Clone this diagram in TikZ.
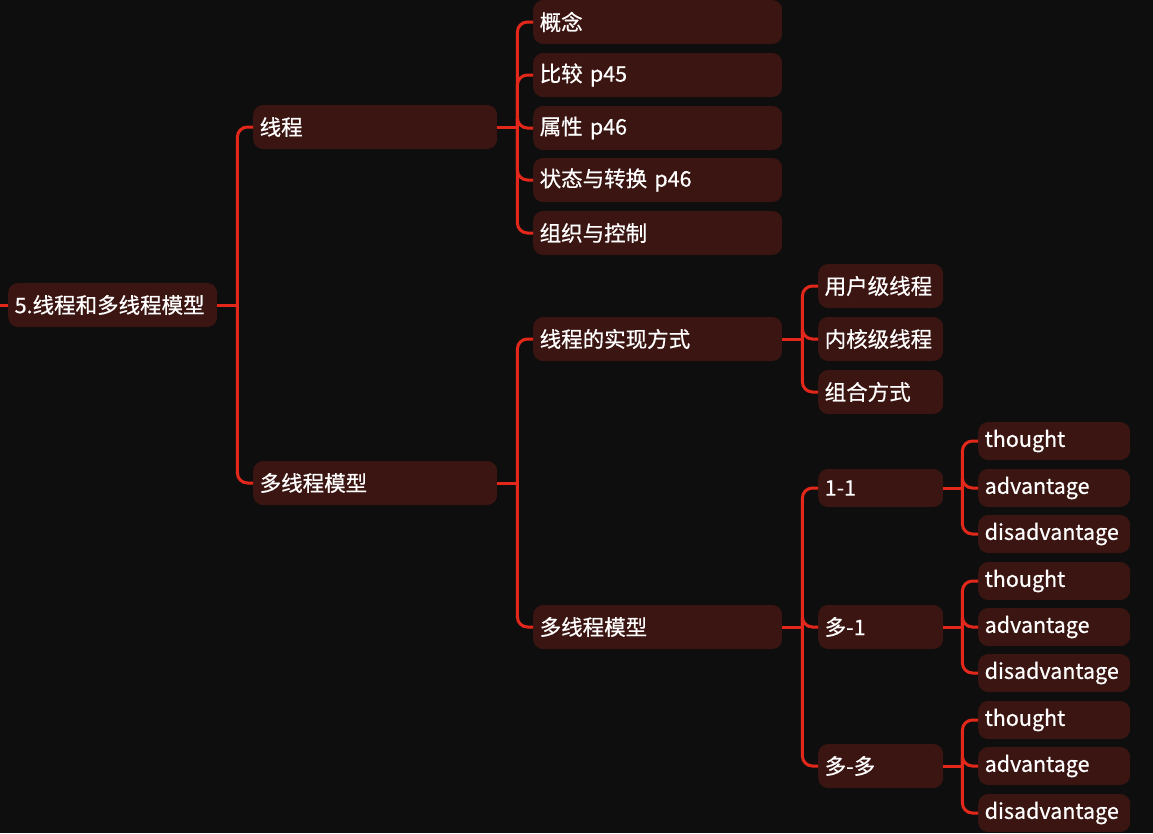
\documentclass[tikz,border=0pt]{standalone}
\usepackage{fontspec}
\setmainfont{Noto Sans CJK SC}[FakeBold=0.6, AutoFakeBold=0.6]
\usetikzlibrary{positioning, calc}

\definecolor{bgblack}{HTML}{0E0E0E}
\definecolor{boxbrown}{HTML}{3B1511}
\definecolor{linkred}{HTML}{E3281B}

\begin{document}
\begin{tikzpicture}[
  x=1pt, y=-1pt,
  topic/.style={rectangle, fill=boxbrown, rounded corners=10pt, anchor=west, align=left, inner xsep=6.5pt, inner ysep=0pt, minimum height=44pt, text=white, font=\fontsize{21.5}{24}\selectfont},
  rootbox/.style={topic, text width=196pt},
  mainbox/.style={topic, text width=231pt},
  subbox/.style={topic, text width=236pt},
  smallbox/.style={topic, text width=112pt},
  leafbox/.style={topic, text width=139pt, minimum height=38pt},
  link/.style={draw=linkred, line width=3pt},
  branch/.style={link, rounded corners=10pt}
]
% Background and page size
\fill[bgblack] (0,0) rectangle (1153,833);
\useasboundingbox (0,0) rectangle (1153,833);

% Root
\node[rootbox] (root) at (8,305) {5.线程和多线程模型};
\coordinate (in) at (0,305);

% Level 1
\node[mainbox] (thr) at (253,127) {线程};
\node[mainbox] (mt) at (253,483) {多线程模型};

% Level 2: thread
\node[subbox] (concept) at (533,22) {概念};
\node[subbox] (cmp) at (533,75) {比较 p45};
\node[subbox] (attr) at (533,128) {属性 p46};
\node[subbox] (state) at (533,180) {状态与转换 p46};
\node[subbox] (org) at (533,233) {组织与控制};

% Level 2: multithreading
\node[subbox] (impl) at (533,339) {线程的实现方式};
\node[subbox] (mtm) at (533,627) {多线程模型};

% Level 3: implementation
\node[smallbox] (user) at (818,286) {用户级线程};
\node[smallbox] (kernel) at (818,339) {内核级线程};
\node[smallbox] (combo) at (818,392) {组合方式};

% Level 3: models
\node[smallbox, minimum height=38pt] (oneone) at (818,488) {1-1};
\node[smallbox] (manyone) at (818,627) {多-1};
\node[smallbox] (manymany) at (818,766) {多-多};

% Level 4: 1-1
\node[leafbox] (oo-th) at (978,441) {thought};
\node[leafbox] (oo-adv) at (978,488) {advantage};
\node[leafbox] (oo-dis) at (978,534) {disadvantage};

% Level 4: many-1
\node[leafbox] (mo-th) at (978,581) {thought};
\node[leafbox] (mo-adv) at (978,627) {advantage};
\node[leafbox] (mo-dis) at (978,673) {disadvantage};

% Level 4: many-many
\node[leafbox] (mm-th) at (978,720) {thought};
\node[leafbox] (mm-adv) at (978,766) {advantage};
\node[leafbox] (mm-dis) at (978,813) {disadvantage};

% Stubs to the junctions
\draw[link] (in) -- (root.west);
\draw[link] (root.east) -- ++(20,0) coordinate (root-j);
\draw[link] (thr.east) -- ++(20,0) coordinate (thr-j);
\draw[link] (mt.east) -- ++(20,0) coordinate (mt-j);
\draw[link] (impl.east) -- ++(20,0) coordinate (impl-j);
\draw[link] (mtm.east) -- ++(20,0) coordinate (mtm-j);
\draw[link] (oneone.east) -- ++(19,0) coordinate (oo-j);
\draw[link] (manyone.east) -- ++(19,0) coordinate (mo-j);
\draw[link] (manymany.east) -- ++(19,0) coordinate (mm-j);

% Branches
\draw[branch] (root-j) |- (thr.west);
\draw[branch] (root-j) |- (mt.west);

\draw[branch] (thr-j) |- (concept.west);
\draw[branch] (thr-j) |- (cmp.west);
\draw[branch] (thr-j) |- (attr.west);
\draw[branch] (thr-j) |- (state.west);
\draw[branch] (thr-j) |- (org.west);

\draw[branch] (mt-j) |- (impl.west);
\draw[branch] (mt-j) |- (mtm.west);

\draw[branch] (impl-j) |- (user.west);
\draw[branch] (impl-j) |- (kernel.west);
\draw[branch] (impl-j) |- (combo.west);

\draw[branch] (mtm-j) |- (oneone.west);
\draw[branch] (mtm-j) |- (manyone.west);
\draw[branch] (mtm-j) |- (manymany.west);

\draw[branch] (oo-j) |- (oo-th.west);
\draw[branch] (oo-j) |- (oo-adv.west);
\draw[branch] (oo-j) |- (oo-dis.west);

\draw[branch] (mo-j) |- (mo-th.west);
\draw[branch] (mo-j) |- (mo-adv.west);
\draw[branch] (mo-j) |- (mo-dis.west);

\draw[branch] (mm-j) |- (mm-th.west);
\draw[branch] (mm-j) |- (mm-adv.west);
\draw[branch] (mm-j) |- (mm-dis.west);
\end{tikzpicture}
\end{document}
